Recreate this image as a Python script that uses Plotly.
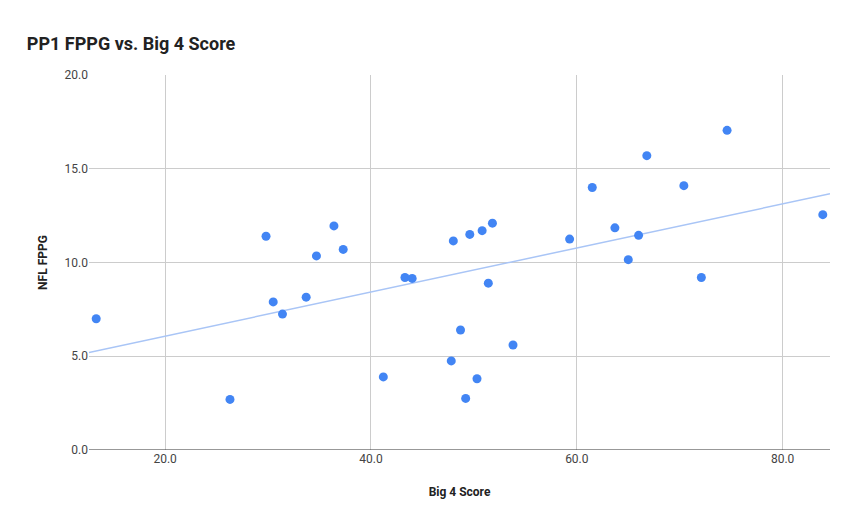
import numpy as np
import plotly.graph_objects as go

big4_score = [13.3, 26.3, 29.8, 30.5, 31.4, 33.7, 34.7, 36.4, 37.3, 41.2, 43.3, 44.0,
              47.8, 48.0, 48.7, 49.2, 49.6, 50.3, 50.8, 51.4, 51.8, 53.8, 59.3, 61.5,
              63.7, 65.0, 66.0, 66.8, 70.4, 72.1, 74.6, 83.9]
nfl_fppg = [7.0, 2.7, 11.4, 7.9, 7.25, 8.15, 10.35, 11.95, 10.7, 3.9, 9.2, 9.15,
            4.75, 11.15, 6.4, 2.75, 11.5, 3.8, 11.7, 8.9, 12.1, 5.6, 11.25, 14.0,
            11.85, 10.15, 11.45, 15.7, 14.1, 9.2, 17.05, 12.55]

x_range = [12.6, 84.6]
slope, intercept = np.polyfit(big4_score, nfl_fppg, 1)
trend_x = np.array(x_range)
trend_y = slope * trend_x + intercept

fig = go.Figure()
fig.add_trace(go.Scatter(x=trend_x, y=trend_y, mode="lines",
                         line=dict(color="#a9c5f6", width=1.5), hoverinfo="skip"))
fig.add_trace(go.Scatter(x=big4_score, y=nfl_fppg, mode="markers",
                         marker=dict(color="#4285f4", size=9)))

fig.update_layout(
    width=857, height=530,
    paper_bgcolor="white", plot_bgcolor="white",
    showlegend=False,
    font=dict(family="Roboto, Arial", color="#222"),
    title=dict(text="<b>PP1 FPPG vs. Big 4 Score</b>", x=0.022, y=0.945,
               xanchor="left", font=dict(size=18, color="#222")),
    margin=dict(l=81, r=35, t=67, b=88),
)
fig.update_xaxes(range=x_range, tickvals=[20, 40, 60, 80], tickformat=".1f",
                 showgrid=True, gridcolor="#cccccc", zeroline=False,
                 title=dict(text="<b>Big 4 Score</b>", font=dict(size=12), standoff=22),
                 tickfont=dict(size=12, color="#444"))
fig.update_yaxes(range=[0, 20], tickvals=[0, 5, 10, 15, 20], tickformat=".1f",
                 showgrid=True, gridcolor="#cccccc", zeroline=False, showline=False,
                 title=dict(text="<b>NFL FPPG</b>", font=dict(size=12), standoff=14),
                 tickfont=dict(size=12, color="#444"))
fig.add_shape(type="line", xref="paper", yref="y", x0=0, x1=1, y0=0, y1=0,
              line=dict(color="#333", width=1.2))

fig.write_html("out.html")
